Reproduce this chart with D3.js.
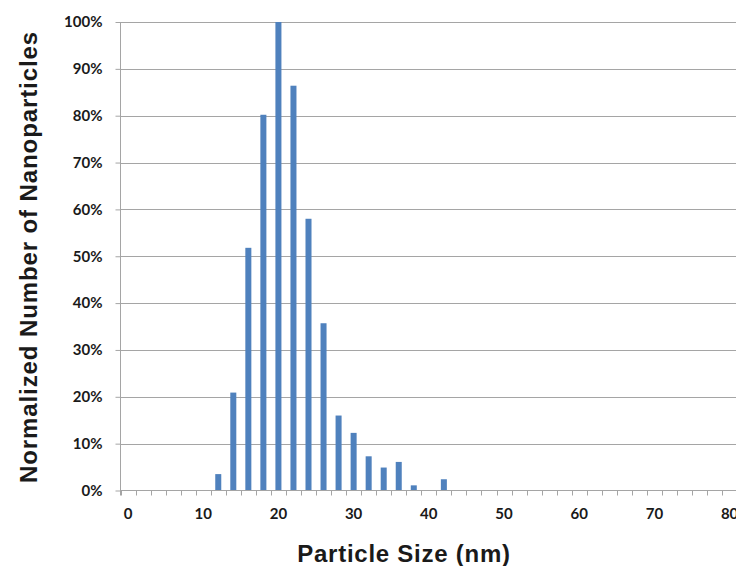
<!DOCTYPE html>
<html>
<head>
<meta charset="utf-8">
<script src="https://cdn.jsdelivr.net/npm/d3@7"></script>
<style>
  html, body { margin: 0; padding: 0; background: #fff; overflow: hidden; }
  svg { display: block; }
</style>
</head>
<body>
<svg id="chart" width="736" height="566"></svg>
<script>
// ---- data ----
const sizes = [0, 2, 4, 6, 8, 10, 12, 14, 16, 18, 20, 22, 24, 26, 28, 30, 32, 34, 36, 38, 40,
               42, 44, 46, 48, 50, 52, 54, 56, 58, 60, 62, 64, 66, 68, 70, 72, 74, 76, 78, 80];
const counts = [0, 0, 0, 0, 0, 0, 0.035, 0.209, 0.518, 0.802, 1.00, 0.864, 0.580, 0.357, 0.160, 0.123,
                0.073, 0.049, 0.061, 0.011, 0, 0.024, 0, 0, 0, 0, 0, 0, 0, 0, 0,
                0, 0, 0, 0, 0, 0, 0, 0, 0, 0];
const yTicks = [0, 0.1, 0.2, 0.3, 0.4, 0.5, 0.6, 0.7, 0.8, 0.9, 1.0];
const xLabels = [0, 10, 20, 30, 40, 50, 60, 70, 80];
const xTitle = "Particle Size (nm)";
const yTitle = "Normalized Number of Nanoparticles";

// ---- layout ----
const svg = d3.select("#chart");
const plotLeft = 120.5, plotTop = 22, plotBottom = 490.5;
const step = 15.04;
const plotRight = plotLeft + step * sizes.length;

const x = d3.scaleBand().domain(sizes).range([plotLeft, plotRight]).paddingInner(0.6).paddingOuter(0.3);
const y = d3.scaleLinear().domain([0, 1]).range([plotBottom, plotTop]);

const tickFont = "Lato, 'Open Sans', sans-serif";
const titleFont = "'Liberation Sans', Arial, sans-serif";

// gridlines
svg.append("g").selectAll("line").data(yTicks.filter(d => d > 0)).join("line")
  .attr("x1", plotLeft).attr("x2", 736)
  .attr("y1", d => Math.round(y(d)) + 0.5).attr("y2", d => Math.round(y(d)) + 0.5)
  .attr("stroke", "#a5a5a5").attr("stroke-width", 1);

// bars
svg.append("g").selectAll("rect").data(sizes.map((s, i) => ({s, v: counts[i]})).filter(d => d.v > 0)).join("rect")
  .attr("x", d => x(d.s))
  .attr("width", x.bandwidth())
  .attr("y", d => y(d.v))
  .attr("height", d => y(0) - y(d.v))
  .attr("fill", "#4f81bd");

// y axis
const yAxis = d3.axisLeft(y).tickValues(yTicks).tickFormat(d3.format(".0%")).tickSize(5).tickPadding(13);
const gy = svg.append("g").attr("transform", `translate(${plotLeft},0)`).call(yAxis);
gy.select(".domain").attr("stroke", "#a5a5a5").attr("d", `M0,${plotTop}V${plotBottom + 5}`);
gy.selectAll(".tick line").attr("stroke", "#a5a5a5");
gy.selectAll(".tick text").attr("font-family", tickFont).attr("font-weight", "bold")
  .attr("font-size", 15).attr("fill", "#1a1a1a");

// x axis line
svg.append("line").attr("x1", plotLeft).attr("x2", 736).attr("y1", plotBottom).attr("y2", plotBottom)
  .attr("stroke", "#a5a5a5");

// x category boundary ticks
const bounds = sizes.map(s => x(s) - x.step() * x.paddingInner() / 2);
svg.append("g").selectAll("line").data(bounds).join("line")
  .attr("x1", d => Math.round(d) + 0.5).attr("x2", d => Math.round(d) + 0.5)
  .attr("y1", plotBottom).attr("y2", plotBottom + 5)
  .attr("stroke", "#a5a5a5");

// x labels
svg.append("g").selectAll("text").data(xLabels).join("text")
  .attr("x", d => x(d) + x.bandwidth() / 2)
  .attr("y", 519)
  .attr("text-anchor", "middle")
  .attr("font-family", tickFont).attr("font-weight", "bold").attr("font-size", 15)
  .attr("fill", "#1a1a1a")
  .text(d => d);

// titles
svg.append("text").attr("x", 404).attr("y", 562).attr("text-anchor", "middle")
  .attr("font-family", titleFont).attr("font-weight", "bold").attr("font-size", 24)
  .attr("letter-spacing", 0.75)
  .attr("fill", "#1a1a1a").text(xTitle);

svg.append("text").attr("transform", "translate(37,257) rotate(-90)").attr("text-anchor", "middle")
  .attr("font-family", titleFont).attr("font-weight", "bold").attr("font-size", 24)
  .attr("letter-spacing", 0.9)
  .attr("fill", "#1a1a1a").text(yTitle);
</script>
</body>
</html>
